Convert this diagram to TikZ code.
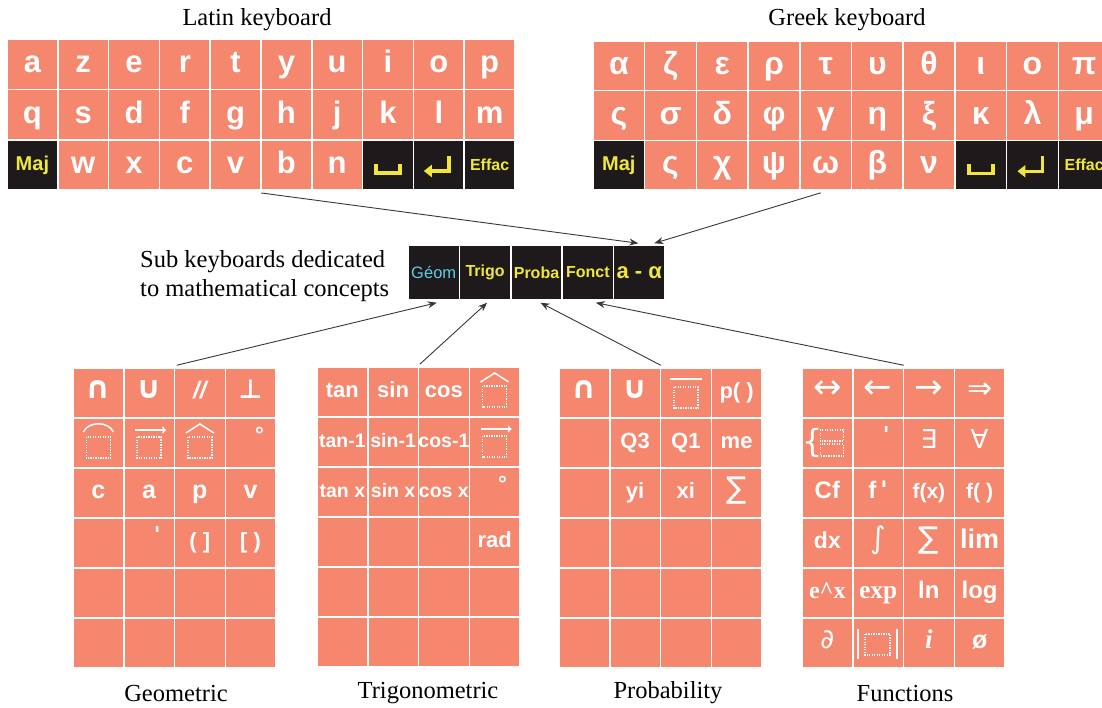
\documentclass[tikz,border=0pt]{standalone}
\usepackage{fontspec}
\setmainfont{Liberation Serif}
\setsansfont{Liberation Sans}
\newfontfamily\symf{DejaVu Sans}[Ligatures=TeXOff]
\usetikzlibrary{arrows.meta,calc}
\definecolor{keysalmon}{RGB}{244,135,110}
\definecolor{keyblack}{RGB}{30,26,27}
\definecolor{keyyellow}{RGB}{240,230,60}
\definecolor{geomcyan}{RGB}{95,205,230}
\definecolor{arrowgray}{RGB}{55,55,60}
\newcommand\kfs[1]{\fontsize{#1}{#1}\selectfont}
\tikzset{
  cellbase/.style={draw=white, line width=1.5pt, inner sep=0pt, text=white},
  lkey/.style={cellbase, fill=keysalmon, minimum width=50.8pt, minimum height=50.4pt,
    font=\sffamily\bfseries\kfs{31}, text height=23pt, text depth=6pt},
  lblk/.style={lkey, fill=keyblack, text=keyyellow, font=\sffamily\bfseries\kfs{20}, text height=14pt, text depth=4pt},
  gkey/.style={lkey, minimum width=51.7pt, minimum height=49.7pt, font=\sffamily\bfseries\kfs{32}},
  gblk/.style={lblk, minimum width=51.7pt, minimum height=49.7pt},
  skey/.style={cellbase, fill=keysalmon, minimum width=50.75pt, minimum height=50pt,
    font=\sffamily\bfseries\kfs{22}, text height=16pt, text depth=5pt},
  bkey/.style={cellbase, fill=keyblack, minimum width=51.4pt, minimum height=55pt,
    text=keyyellow, font=\sffamily\bfseries\kfs{16}},
  ttl/.style={font=\kfs{24.5}, inner sep=0pt},
  arr/.style={draw=arrowgray, line width=0.9pt, -{Stealth[length=9pt,width=7pt]}},
  dotb/.style={white, line width=1.6pt, dash pattern=on 1.2pt off 1.3pt},
  symw/.style={white, line width=1.5pt},
  ovl/.style={inner sep=0pt, text=white},
  yel/.style={keyyellow, line width=3.5pt}
}
\newcommand\dsq[1]{\draw[dotb] ($(#1)+(-12,-6)$) rectangle ($(#1)+(12,15)$);}
\newcommand\arcsq[1]{\dsq{#1}\draw[symw] ($(#1)+(-15,-11)$) .. controls ($(#1)+(-10,-22)$) and ($(#1)+(10,-22)$) .. ($(#1)+(15,-11)$);}
\newcommand\vecsq[1]{\dsq{#1}\draw[symw,-{To[length=4pt,width=7pt]}] ($(#1)+(-14,-13)$) -- ($(#1)+(17,-13)$);}
\newcommand\hatsq[1]{\dsq{#1}\draw[symw] ($(#1)+(-14,-10)$) -- ($(#1)+(0,-19)$) -- ($(#1)+(14,-10)$);}
\newcommand\barsq[1]{\dsq{#1}\draw[symw] ($(#1)+(-16,-14)$) -- ($(#1)+(16,-14)$);}
\newcommand\spacekey[1]{\draw[yel] ($(#1)+(-12,-1)$) -- ($(#1)+(-12,8)$) -- ($(#1)+(12,8)$) -- ($(#1)+(12,-1)$);}
\newcommand\enterkey[1]{\draw[yel,-{Triangle[length=8pt,width=12pt]}] ($(#1)+(10,-9)$) -- ($(#1)+(10,6)$) -- ($(#1)+(-15,6)$);}
\begin{document}
\begin{tikzpicture}[x=1pt,y=-1pt]
\useasboundingbox (0,0) rectangle (1102,707);
\clip (0,0) rectangle (1102,707);
\fill[white] (0,0) rectangle (1102,707);

% ---------- Latin keyboard ----------
\node[ttl] (latint) at (257,20) {Latin keyboard};
\foreach \t [count=\c] in {a,z,e,r,t,y,u,i,o,p}
  \node[lkey] (L-1-\c) at ({7+(\c-0.5)*50.8},{39+0.5*50.4}) {\t};
\foreach \t [count=\c] in {q,s,d,f,g,h,j,k,l,m}
  \node[lkey] (L-2-\c) at ({7+(\c-0.5)*50.8},{39+1.5*50.4}) {\t};
\node[lblk] (L-3-1) at ({7+0.5*50.8},{39+2.5*50.4}) {Maj};
\foreach \t [count=\c from 2] in {w,x,c,v,b,n}
  \node[lkey] (L-3-\c) at ({7+(\c-0.5)*50.8},{39+2.5*50.4}) {\t};
\node[lblk] (L-3-8) at ({7+7.5*50.8},{39+2.5*50.4}) {};
\node[lblk] (L-3-9) at ({7+8.5*50.8},{39+2.5*50.4}) {};
\node[lblk, font=\sffamily\bfseries\kfs{16}] (L-3-10) at ({7+9.5*50.8},{39+2.5*50.4}) {Effac};
\spacekey{L-3-8}
\enterkey{L-3-9}

% ---------- Greek keyboard ----------
\node[ttl] (greekt) at (847,20) {Greek keyboard};
\foreach \t [count=\c] in {α,ζ,ε,ρ,τ,υ,θ,ι,ο,π}
  \node[gkey] (G-1-\c) at ({593+(\c-0.5)*51.7},{41+0.5*49.7}) {\t};
\foreach \t [count=\c] in {ς,σ,δ,φ,γ,η,ξ,κ,λ,μ}
  \node[gkey] (G-2-\c) at ({593+(\c-0.5)*51.7},{41+1.5*49.7}) {\t};
\node[gblk] (G-3-1) at ({593+0.5*51.7},{41+2.5*49.7}) {Maj};
\foreach \t [count=\c from 2] in {ς,χ,ψ,ω,β,ν}
  \node[gkey] (G-3-\c) at ({593+(\c-0.5)*51.7},{41+2.5*49.7}) {\t};
\node[gblk] (G-3-8) at ({593+7.5*51.7},{41+2.5*49.7}) {};
\node[gblk] (G-3-9) at ({593+8.5*51.7},{41+2.5*49.7}) {};
\node[gblk, font=\sffamily\bfseries\kfs{16}] (G-3-10) at ({593+9.5*51.7},{41+2.5*49.7}) {Effac};
\spacekey{G-3-8}
\enterkey{G-3-9}

% ---------- Sub keyboard bar ----------
\node[font=\fontsize{24.5}{28.5}\selectfont, align=left, inner sep=0pt, anchor=west] (subt) at (140,276)
  {Sub keyboards dedicated\\to mathematical concepts};
\node[bkey, text=geomcyan, font=\sffamily\kfs{16.5}] (B-1) at ({408+0.5*51.4},272.5) {Géom};
\node[bkey] (B-2) at ({408+1.5*51.4},272.5) {Trigo};
\node[bkey] (B-3) at ({408+2.5*51.4},272.5) {Proba};
\node[bkey] (B-4) at ({408+3.5*51.4},272.5) {Fonct};
\node[bkey, font=\sffamily\bfseries\kfs{22}] (B-5) at ({408+4.5*51.4},272.5) {a - α};

% ---------- Geometric ----------
\begin{scope}[shift={(73,368)}]
\foreach \t [count=\c] in {{\symf\bfseries\kfs{31}∩},{\symf\bfseries\kfs{31}∪},{\itshape\kfs{24}//},{\symf\bfseries\kfs{26}⊥}}
  \node[skey] (Ge-1-\c) at ({(\c-0.5)*50.75},25) {\t};
\foreach \c in {1,...,4}
  \node[skey] (Ge-2-\c) at ({(\c-0.5)*50.75},75) {};
\foreach \t [count=\c] in {c,a,p,v}
  \node[skey, font=\sffamily\bfseries\kfs{25}] (Ge-3-\c) at ({(\c-0.5)*50.75},125) {\t};
\foreach \t [count=\c] in {{},{},{( ]},{[ )}}
  \node[skey] (Ge-4-\c) at ({(\c-0.5)*50.75},175) {\t};
\foreach \r in {5,6}
  \foreach \c in {1,...,4}
    \node[skey] (Ge-\r-\c) at ({(\c-0.5)*50.75},{(\r-0.5)*50}) {};
\end{scope}
\arcsq{Ge-2-1}
\vecsq{Ge-2-2}
\hatsq{Ge-2-3}
\node[ovl, font=\sffamily\bfseries\kfs{22}] (Ge-deg) at ($(Ge-2-4)+(9,-8)$) {°};
\node[ovl, font=\symf\bfseries\kfs{22}] (Ge-quote) at ($(Ge-4-2)+(8,-9)$) {'};
\node[ttl] (geot) at (176,693) {Geometric};

% ---------- Trigonometric ----------
\begin{scope}[shift={(317,367)}]
\foreach \t [count=\c] in {tan,sin,cos,{}}
  \node[skey] (Tr-1-\c) at ({(\c-0.5)*50.75},25) {\t};
\foreach \t [count=\c] in {tan-1,sin-1,cos-1,{}}
  \node[skey, font=\sffamily\bfseries\kfs{19.5}] (Tr-2-\c) at ({(\c-0.5)*50.75},75) {\t};
\foreach \t [count=\c] in {tan x,sin x,cos x,{}}
  \node[skey, font=\sffamily\bfseries\kfs{19.5}] (Tr-3-\c) at ({(\c-0.5)*50.75},125) {\t};
\foreach \t [count=\c] in {{},{},{},rad}
  \node[skey] (Tr-4-\c) at ({(\c-0.5)*50.75},175) {\t};
\foreach \r in {5,6}
  \foreach \c in {1,...,4}
    \node[skey] (Tr-\r-\c) at ({(\c-0.5)*50.75},{(\r-0.5)*50}) {};
\end{scope}
\hatsq{Tr-1-4}
\vecsq{Tr-2-4}
\node[ovl, font=\sffamily\bfseries\kfs{22}] (Tr-deg) at ($(Tr-3-4)+(8,-8)$) {°};
\node[ttl] (trit) at (428,693) {Trigonometric};

% ---------- Probability ----------
\begin{scope}[shift={(559,368)}]
\foreach \t [count=\c] in {{\symf\bfseries\kfs{31}∩},{\symf\bfseries\kfs{31}∪},{},p( )}
  \node[skey] (Pr-1-\c) at ({(\c-0.5)*50.75},25) {\t};
\foreach \t [count=\c] in {{},Q3,Q1,me}
  \node[skey] (Pr-2-\c) at ({(\c-0.5)*50.75},75) {\t};
\foreach \t [count=\c] in {{},yi,xi,{\symf\mdseries\kfs{30}∑}}
  \node[skey] (Pr-3-\c) at ({(\c-0.5)*50.75},125) {\t};
\foreach \r in {4,5,6}
  \foreach \c in {1,...,4}
    \node[skey] (Pr-\r-\c) at ({(\c-0.5)*50.75},{(\r-0.5)*50}) {};
\end{scope}
\barsq{Pr-1-3}
\node[ttl] (prot) at (668,693) {Probability};

% ---------- Functions ----------
\begin{scope}[shift={(802,368)}]
\foreach \t [count=\c] in {{\symf\mdseries\kfs{34}↔},{\symf\mdseries\kfs{34}←},{\symf\mdseries\kfs{34}→},{\symf\mdseries\kfs{30}⇒}}
  \node[skey] (Fu-1-\c) at ({(\c-0.5)*50.75},25) {\t};
\foreach \t [count=\c] in {{},{},{\symf\mdseries\kfs{26}∃},{\symf\mdseries\kfs{26}∀}}
  \node[skey] (Fu-2-\c) at ({(\c-0.5)*50.75},75) {\t};
\foreach \t [count=\c] in {{\kfs{24}Cf},{\kfs{24}f\,\symf '},{\kfs{21}f(x)},{\kfs{21}f( )}}
  \node[skey] (Fu-3-\c) at ({(\c-0.5)*50.75},125) {\t};
\foreach \t [count=\c] in {{\kfs{23}dx},{\symf\mdseries\kfs{30}∫},{\symf\mdseries\kfs{30}∑},{\kfs{27}lim}}
  \node[skey] (Fu-4-\c) at ({(\c-0.5)*50.75},175) {\t};
\foreach \t [count=\c] in {{\rmfamily\kfs{24}e\textasciicircum x},{\rmfamily\kfs{25.5}exp},{\kfs{24}ln},{\kfs{24}log}}
  \node[skey] (Fu-5-\c) at ({(\c-0.5)*50.75},225) {\t};
\foreach \t [count=\c] in {{\symf\mdseries\kfs{27}∂},{},{\rmfamily\itshape\kfs{27}i},{\kfs{25}ø}}
  \node[skey] (Fu-6-\c) at ({(\c-0.5)*50.75},275) {\t};
\end{scope}
\node[ovl, font=\symf\kfs{32}] (Fu-brace) at ($(Fu-2-1)+(-15,0)$) {\{};
\draw[dotb] ($(Fu-2-1)+(-7,-13)$) rectangle ($(Fu-2-1)+(16,-2)$);
\draw[dotb] ($(Fu-2-1)+(-7,1)$) rectangle ($(Fu-2-1)+(16,13)$);
\node[ovl, font=\symf\bfseries\kfs{22}] (Fu-quote) at ($(Fu-2-2)+(8,-9)$) {'};
\draw[white, line width=2.6pt] ($(Fu-6-2)+(-20,-14)$) -- ($(Fu-6-2)+(-20,16)$);
\draw[white, line width=2.6pt] ($(Fu-6-2)+(19,-14)$) -- ($(Fu-6-2)+(19,16)$);
\draw[dotb] ($(Fu-6-2)+(-13,-9)$) rectangle ($(Fu-6-2)+(12,12)$);
\node[ttl] (funt) at (905,693) {Functions};

% ---------- connectors ----------
\draw[arr] ($(L-3-6.south west)+(1,2)$) -- ($(B-5.north)+(-1,-1)$);
\draw[arr] ($(G-3-5.south)+(-5,2)$) -- ($(B-5.north)+(15,-1)$);
\draw[arr] ($(Ge-1-3.north west)+(3,-2)$) -- ($(B-1.south)+(3,2)$);
\draw[arr] ($(Tr-1-3.north west)+(2,-2)$) -- ($(B-2.south)+(2,2)$);
\draw[arr] ($(Pr-1-3.north west)+(1,-2)$) -- ($(B-3.south)+(4,2)$);
\draw[arr] ($(Fu-1-3.north west)+(1,-2)$) -- ($(B-4.south)+(8,2)$);
\end{tikzpicture}
\end{document}
